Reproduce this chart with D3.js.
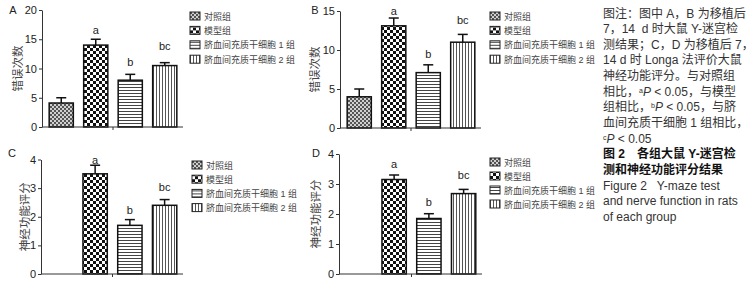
<!DOCTYPE html>
<html lang="zh">
<head>
<meta charset="utf-8">
<title>Figure 2</title>
<script src="https://cdn.jsdelivr.net/npm/d3@7"></script>
<style>
  body { margin: 0; background: #fff; }
  svg text { font-family: "Liberation Sans", Arial, "Noto Sans CJK SC", sans-serif; }
</style>
</head>
<body>
<div id="chart"></div>
<script>
// groups shown in every panel
var groups = ["对照组", "模型组", "脐血间充质干细胞 1 组", "脐血间充质干细胞 2 组"];
var letters = ["", "a", "b", "bc"];

// A: Y-maze errors, day 7
var errorsDay7 = [4.1, 14.0, 8.0, 10.5];
var errorsDay7Sd = [0.9, 1.0, 1.0, 0.5];
// B: Y-maze errors, day 14
var errorsDay14 = [4.0, 13.1, 7.1, 11.0];
var errorsDay14Sd = [1.0, 1.0, 1.0, 1.0];
// C: Longa score, day 7
var scoreDay7 = [0, 3.5, 1.7, 2.4];
var scoreDay7Sd = [0, 0.3, 0.2, 0.2];
// D: Longa score, day 14
var scoreDay14 = [0, 3.15, 1.85, 2.68];
var scoreDay14Sd = [0, 0.15, 0.16, 0.14];

var ticksErrA = [0, 5, 10, 15, 20];
var ticksErrB = [0, 5, 10, 15];
var ticksScore = [0, 1, 2, 3, 4];

var captionLines = [
  [["图注：图中 A，B 为移植后"]],
  [["7，14  d 时大鼠 Y-迷宫检"]],
  [["测结果；C，D 为移植后 7，"]],
  [["14 d 时 Longa 法评价大鼠"]],
  [["神经功能评分。与对照组"]],
  [["相比，"], ["a", "sup"], ["P", "i"], [" < 0.05，与模型"]],
  [["组相比，"], ["b", "sup"], ["P", "i"], [" < 0.05，与脐"]],
  [["血间充质干细胞 1 组相比，"]],
  [["c", "sup"], ["P", "i"], [" < 0.05"]],
  [["图 2　各组大鼠 Y-迷宫检", "b"]],
  [["测和神经功能评分结果", "b"]],
  [["Figure 2   Y-maze test"]],
  [["and nerve function in rats"]],
  [["of each group"]]
];

var W = 754, H = 283;
var svg = d3.select("#chart").append("svg")
  .attr("width", W).attr("height", H)
  .style("background", "#fff");

// fill patterns
var defs = svg.append("defs");
var p0 = defs.append("pattern").attr("id", "pat0").attr("patternUnits", "userSpaceOnUse")
  .attr("width", 4).attr("height", 4);
p0.append("rect").attr("width", 4).attr("height", 4).attr("fill", "#d0d0d0");
p0.append("rect").attr("width", 2).attr("height", 2).attr("fill", "#555");
p0.append("rect").attr("x", 2).attr("y", 2).attr("width", 2).attr("height", 2).attr("fill", "#555");

var p1 = defs.append("pattern").attr("id", "pat1").attr("patternUnits", "userSpaceOnUse")
  .attr("width", 6).attr("height", 6);
p1.append("rect").attr("width", 6).attr("height", 6).attr("fill", "#fff");
p1.append("rect").attr("width", 3).attr("height", 3).attr("fill", "#111");
p1.append("rect").attr("x", 3).attr("y", 3).attr("width", 3).attr("height", 3).attr("fill", "#111");

var p2 = defs.append("pattern").attr("id", "pat2").attr("patternUnits", "userSpaceOnUse")
  .attr("width", 3).attr("height", 3);
p2.append("rect").attr("width", 3).attr("height", 3).attr("fill", "#fff");
p2.append("rect").attr("width", 3).attr("height", 1).attr("fill", "#444");

var p3 = defs.append("pattern").attr("id", "pat3").attr("patternUnits", "userSpaceOnUse")
  .attr("width", 3).attr("height", 3);
p3.append("rect").attr("width", 3).attr("height", 3).attr("fill", "#fff");
p3.append("rect").attr("width", 1).attr("height", 3).attr("fill", "#555");

var fills = ["url(#pat0)", "url(#pat1)", "url(#pat2)", "url(#pat3)"];

var panels = [
  { tag: "A", vals: errorsDay7, sd: errorsDay7Sd, ticks: ticksErrA, max: 20, label: "错误次数",
    ax: 42, xr: [44, 182], yr: [127, 10], tagX: 13, tagY: 14, labX: 18,
    legX: 190, legY: 16, legStep: 14.4, gaps: [0, 5, 8, 13] },
  { tag: "B", vals: errorsDay14, sd: errorsDay14Sd, ticks: ticksErrB, max: 15, label: "错误次数",
    ax: 340, xr: [342, 480], yr: [128, 11], tagX: 315, tagY: 14, labX: 315,
    legX: 490, legY: 16, legStep: 14.4, gaps: [0, 3, 7, 10] },
  { tag: "C", vals: scoreDay7, sd: scoreDay7Sd, ticks: ticksScore, max: 4, label: "神经功能评分",
    ax: 41, xr: [43, 182], yr: [274, 159.5], tagX: 12, tagY: 157, labX: 25,
    legX: 192, legY: 165, legStep: 14.2, gaps: [0, 1, 6, 9] },
  { tag: "D", vals: scoreDay14, sd: scoreDay14Sd, ticks: ticksScore, max: 4, label: "神经功能评分",
    ax: 339, xr: [342, 481], yr: [274, 154], tagX: 316, tagY: 157, labX: 316,
    legX: 490, legY: 162, legStep: 14, gaps: [0, 7, 8, 10] }
];

panels.forEach(function(p) {
  var g = svg.append("g");
  var x = d3.scaleBand().domain(groups).range(p.xr).paddingInner(0.3).paddingOuter(0.15);
  var y = d3.scaleLinear().domain([0, p.max]).range(p.yr);
  var rows = groups.map(function(name, i) {
    return { name: name, v: p.vals[i], sd: p.sd[i], fill: fills[i], letter: letters[i], gap: p.gaps[i] };
  });
  var cx = function(d) { return x(d.name) + x.bandwidth() / 2; };

  // bars
  g.selectAll("rect.bar").data(rows).enter().append("rect")
    .attr("class", "bar")
    .attr("x", function(d) { return x(d.name); })
    .attr("y", function(d) { return y(d.v); })
    .attr("width", x.bandwidth())
    .attr("height", function(d) { return y(0) - y(d.v); })
    .attr("fill", function(d) { return d.fill; })
    .attr("stroke", function(d) { return d.v > 0 ? "#111" : "none"; })
    .attr("stroke-width", 1.5);

  // error bars (upper half only)
  var eb = g.selectAll("g.err").data(rows.filter(function(d) { return d.v > 0; }))
    .enter().append("g").attr("class", "err");
  eb.append("line")
    .attr("x1", cx).attr("x2", cx)
    .attr("y1", function(d) { return y(d.v); })
    .attr("y2", function(d) { return y(d.v + d.sd); })
    .attr("stroke", "#111").attr("stroke-width", 1.5);
  eb.append("line")
    .attr("x1", function(d) { return cx(d) - 5; })
    .attr("x2", function(d) { return cx(d) + 5; })
    .attr("y1", function(d) { return y(d.v + d.sd); })
    .attr("y2", function(d) { return y(d.v + d.sd); })
    .attr("stroke", "#111").attr("stroke-width", 1.5);

  // significance letters
  g.selectAll("text.sig").data(rows).enter().append("text")
    .attr("class", "sig")
    .attr("x", cx)
    .attr("y", function(d) { return y(d.v + d.sd) - d.gap; })
    .attr("text-anchor", "middle")
    .attr("font-size", 11).attr("fill", "#222")
    .text(function(d) { return d.letter; });

  // y axis
  var yAxis = g.append("g").attr("transform", "translate(" + p.ax + ",0)")
    .call(d3.axisLeft(y).tickValues(p.ticks).tickFormat(d3.format("d"))
      .tickSize(3).tickSizeOuter(0).tickPadding(2));
  yAxis.select(".domain").attr("stroke", "#333");
  yAxis.selectAll(".tick line").attr("stroke", "#333");
  yAxis.selectAll(".tick text").attr("font-size", 11).attr("fill", "#222")
    .style("font-family", "'Liberation Sans', Arial, sans-serif");

  // x axis: baseline with one centre tick
  var xAxisY = y(0);
  g.append("line").attr("x1", p.ax).attr("x2", p.xr[1] + 1)
    .attr("y1", xAxisY).attr("y2", xAxisY).attr("stroke", "#333").attr("stroke-width", 1);
  var mid = (p.xr[0] + p.xr[1]) / 2;
  g.append("line").attr("x1", mid).attr("x2", mid)
    .attr("y1", xAxisY).attr("y2", xAxisY + 3).attr("stroke", "#333");

  // panel tag and y label
  g.append("text").attr("x", p.tagX).attr("y", p.tagY)
    .attr("text-anchor", "middle")
    .attr("font-size", 11).attr("fill", "#222").text(p.tag);
  var labelY = (p.yr[0] + p.yr[1]) / 2;
  g.append("text")
    .attr("transform", "translate(" + (p.labX + 4) + "," + labelY + ") rotate(-90)")
    .attr("text-anchor", "middle").attr("font-size", 11.5).attr("fill", "#444")
    .text(p.label);

  // legend
  var leg = g.selectAll("g.leg").data(groups).enter().append("g")
    .attr("transform", function(d, i) { return "translate(" + p.legX + "," + (p.legY + i * p.legStep) + ")"; });
  leg.append("rect").attr("x", 0).attr("y", -4).attr("width", 10).attr("height", 8)
    .attr("fill", function(d, i) { return fills[i]; })
    .attr("stroke", "#222").attr("stroke-width", 1);
  leg.append("text").attr("x", 14).attr("y", 3.5)
    .attr("font-size", 9).attr("fill", "#444")
    .text(function(d) { return d; });
});

// caption on the right
var cap = svg.append("g");
captionLines.forEach(function(line, li) {
  var t = cap.append("text").attr("x", 603).attr("y", 17.5 + li * 15.65)
    .attr("font-size", 12).attr("fill", "#333")
    .style("white-space", "pre");
  line.forEach(function(seg) {
    var s = t.append("tspan").text(seg[0]);
    if (seg[1] === "sup") s.attr("font-size", 7).attr("baseline-shift", "super");
    if (seg[1] === "i") s.attr("font-style", "italic");
    if (seg[1] === "b") { s.attr("font-weight", "bold").attr("fill", "#111"); }
  });
});
</script>
</body>
</html>
